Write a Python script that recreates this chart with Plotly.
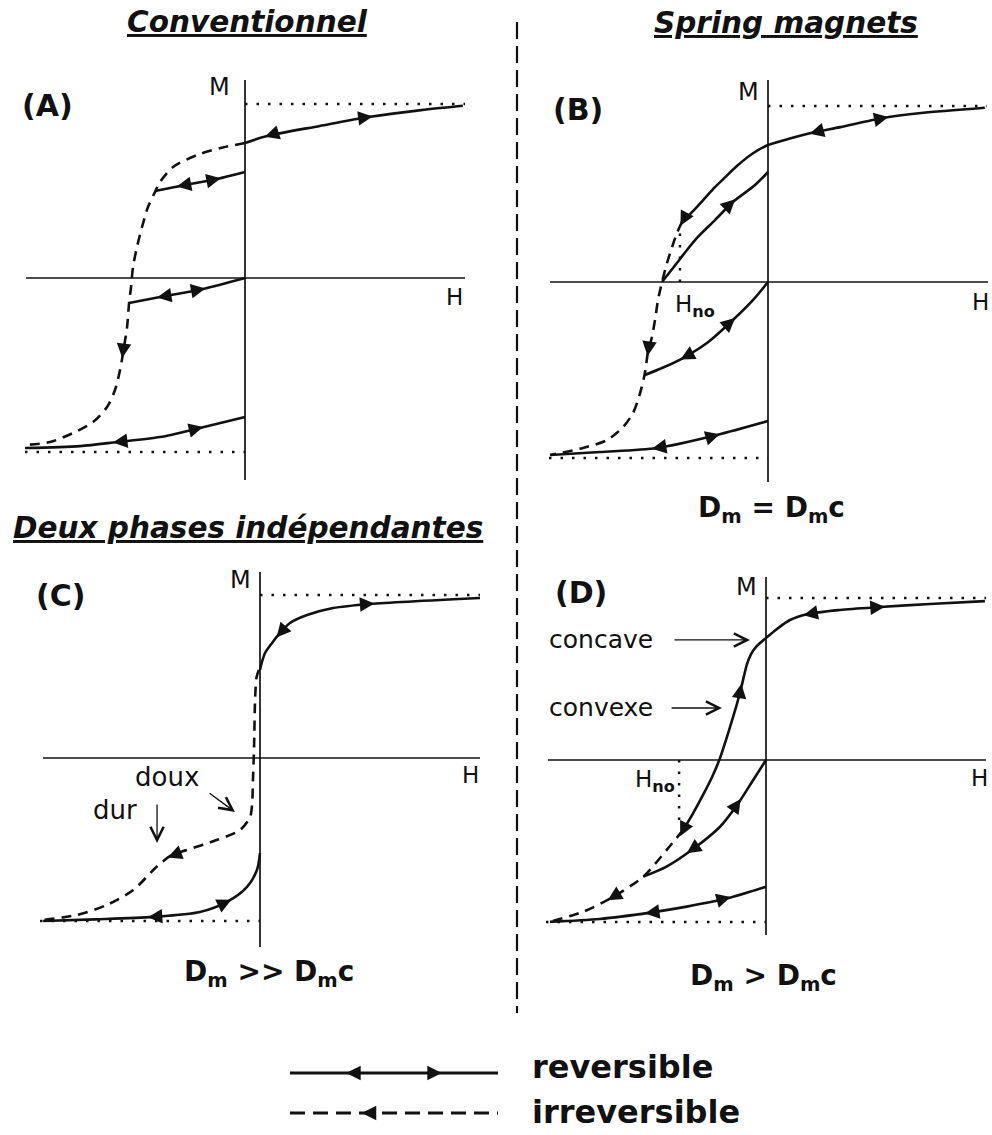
import plotly.graph_objects as go

W, HT = 992, 1135

# ---------------- data (H, M in reduced units, Ms = 1) ----------------
# Panel A - conventionnel
A_major_rev_H = [0.99, 0.80, 0.56, 0.34, 0.10, 0.0]
A_major_rev_M = [0.99, 0.965, 0.925, 0.874, 0.816, 0.776]
A_major_irr_H = [0.0, -0.10, -0.205, -0.327, -0.386, -0.409, -0.441, -0.468, -0.491, -0.509, -0.518,
                 -0.527, -0.536, -0.55, -0.568, -0.591, -0.627, -0.691, -0.782, -0.886, -1.0]
A_major_irr_M = [0.776, 0.75, 0.713, 0.638, 0.552, 0.494, 0.408, 0.293, 0.178, 0.063, -0.052,
                 -0.144, -0.282, -0.397, -0.529, -0.644, -0.741, -0.828, -0.891, -0.943, -0.960]
A_minor1_H = [-0.409, -0.295, -0.127, 0.0]
A_minor1_M = [0.50, 0.529, 0.569, 0.609]
A_minor2_H = [-0.527, -0.386, -0.191, 0.0]
A_minor2_M = [-0.144, -0.109, -0.063, 0.0]
A_bottom_H = [-1.0, -0.75, -0.582, -0.386, -0.205, 0.0]
A_bottom_M = [-0.977, -0.966, -0.943, -0.914, -0.862, -0.799]
# arrows: (H_tail, M_tail, H_tip, M_tip)
A_arrows = [(0.50, 0.915, 0.58, 0.928), (0.16, 0.84, 0.09, 0.812),
            (-0.25, 0.54, -0.31, 0.526), (-0.18, 0.556, -0.11, 0.573),
            (-0.33, -0.098, -0.40, -0.112), (-0.25, -0.077, -0.18, -0.06),
            (-0.52, -0.933, -0.60, -0.945), (-0.26, -0.878, -0.19, -0.857),
            (-0.548, -0.36, -0.558, -0.46)]

# Panel B - spring magnets, Dm = Dmc
B_upper_rev_H = [0.99, 0.70, 0.525, 0.33, 0.215, 0.10, 0.0, -0.07, -0.142, -0.20, -0.251, -0.30, -0.345, -0.393]
B_upper_rev_M = [0.99, 0.96, 0.932, 0.88, 0.852, 0.815, 0.778, 0.73, 0.659, 0.59, 0.528, 0.46, 0.40, 0.341]
B_irr_H = [-0.393, -0.416, -0.438, -0.461, -0.484, -0.502, -0.516, -0.53, -0.548, -0.562, -0.584,
           -0.616, -0.662, -0.735, -0.845, -0.995]
B_irr_M = [0.341, 0.278, 0.199, 0.108, 0.0, -0.102, -0.216, -0.312, -0.398, -0.517, -0.631,
           -0.744, -0.824, -0.898, -0.943, -0.983]
B_second_H = [0.0, -0.059, -0.160, -0.242, -0.320, -0.370, -0.416, -0.484]
B_second_M = [0.625, 0.551, 0.455, 0.352, 0.256, 0.182, 0.108, 0.0]
B_third_H = [0.0, -0.068, -0.160, -0.279, -0.388, -0.484, -0.565]
B_third_M = [0.0, -0.102, -0.216, -0.347, -0.432, -0.489, -0.53]
B_bottom_H = [-0.995, -0.767, -0.507, -0.233, 0.0]
B_bottom_M = [-0.983, -0.966, -0.943, -0.869, -0.790]
B_Hno = -0.402
B_Hno_M = [0.0, 0.295]
B_arrows = [(0.47, 0.918, 0.55, 0.938), (0.26, 0.866, 0.19, 0.843),
            (-0.19, 0.62, -0.15, 0.67), (-0.37, 0.39, -0.40, 0.32),
            (-0.20, 0.41, -0.15, 0.47), (-0.29, 0.295, -0.33, 0.24),
            (-0.20, -0.26, -0.15, -0.205), (-0.34, -0.40, -0.40, -0.44),
            (-0.45, -0.93, -0.53, -0.947), (-0.29, -0.89, -0.22, -0.865),
            (-0.54, -0.33, -0.55, -0.42)]

# Panel C - deux phases independantes, Dm >> Dmc
C_upper_rev_H = [1.0, 0.5, 0.332, 0.214, 0.136, 0.091, 0.055, 0.023, 0.009, 0.0]
C_upper_rev_M = [0.982, 0.945, 0.920, 0.877, 0.828, 0.767, 0.706, 0.644, 0.589, 0.540]
C_irr_H = [-0.005, -0.015, -0.022, -0.027, -0.032, -0.035, -0.045, -0.091, -0.197, -0.333, -0.401,
           -0.47, -0.576, -0.697, -0.833, -0.985]
C_irr_M = [0.54, 0.50, 0.374, 0.067, -0.135, -0.258, -0.362, -0.442, -0.503, -0.564, -0.595,
           -0.667, -0.810, -0.902, -0.963, -0.994]
C_bottom_H = [-0.986, -0.75, -0.486, -0.273, -0.15, -0.059, -0.014, 0.0]
C_bottom_M = [-1.0, -0.99, -0.975, -0.945, -0.883, -0.791, -0.687, -0.583]
C_arrows = [(0.44, 0.94, 0.52, 0.948), (0.12, 0.81, 0.075, 0.74),
            (-0.33, -0.564, -0.42, -0.61), (-0.43, -0.97, -0.51, -0.977),
            (-0.20, -0.915, -0.13, -0.87)]

# Panel D - Dm > Dmc
D_upper_rev_H = [0.995, 0.745, 0.518, 0.336, 0.191, 0.109, 0.05, 0.0, -0.041, -0.068, -0.086, -0.10,
                 -0.114, -0.132, -0.155, -0.182, -0.209, -0.245, -0.291, -0.336, -0.377]
D_upper_rev_M = [0.981, 0.963, 0.944, 0.926, 0.901, 0.864, 0.809, 0.753, 0.704, 0.654, 0.593, 0.519,
                 0.438, 0.346, 0.241, 0.123, 0.012, -0.105, -0.228, -0.340, -0.432]
D_irr_H = [-0.377, -0.452, -0.558, -0.694, -0.83, -0.982]
D_irr_M = [-0.432, -0.556, -0.72, -0.844, -0.936, -0.998]
D_second_H = [0.0, -0.058, -0.126, -0.209, -0.338, -0.452, -0.558]
D_second_M = [0.0, -0.123, -0.267, -0.412, -0.556, -0.658, -0.72]
D_bottom_H = [-0.982, -0.755, -0.527, -0.36, -0.177, 0.0]
D_bottom_M = [-0.998, -0.981, -0.942, -0.905, -0.854, -0.782]
D_Hno = -0.395
D_Hno_M = [0.0, -0.42]
D_arrows = [(0.46, 0.938, 0.54, 0.946), (0.25, 0.915, 0.17, 0.893),
            (-0.125, 0.36, -0.112, 0.47), (-0.35, -0.36, -0.39, -0.47),
            (-0.64, -0.80, -0.72, -0.865), (-0.16, -0.33, -0.115, -0.24),
            (-0.29, -0.51, -0.36, -0.575), (-0.46, -0.93, -0.55, -0.948),
            (-0.24, -0.875, -0.16, -0.845)]

# legend
legend_labels = ["reversible", "irreversible"]
legend_arrows_rev = [(0.4, 0.75, 0.27, 0.75), (0.6, 0.75, 0.73, 0.75)]
legend_arrows_irr = [(0.45, 0.25, 0.345, 0.25)]

# ---------------- styling ----------------
BLACK = "#111111"
FONT = "DejaVu Sans"
DASH_IRR = "10px,7px"
DOT_SAT = "2.5px,9px"
CURVE_W = 2.6

panels = {
    "A": dict(ox=245, oy=278, sx=220, sy=174, xr=[-1.1, 1.1], hx=[-0.995, 1.0], vy=[-1.161, 1.138], n=1),
    "B": dict(ox=768, oy=282, sx=219, sy=176, xr=[-1.1, 1.02], hx=[-0.995, 1.005], vy=[-1.136, 1.148], n=2),
    "C": dict(ox=260, oy=758, sx=220, sy=163, xr=[-1.1, 1.1], hx=[-0.986, 1.0], vy=[-1.16, 1.141], n=3),
    "D": dict(ox=766, oy=760, sx=220, sy=162, xr=[-1.1, 1.02], hx=[-0.991, 1.0], vy=[-1.08, 1.13], n=4),
}

fig = go.Figure()
annotations = []


def axnames(n):
    return ("x" if n == 1 else f"x{n}", "y" if n == 1 else f"y{n}")


def line(n, xs, ys, dash="solid", width=CURVE_W, shape="spline"):
    xa, ya = axnames(n)
    fig.add_trace(go.Scatter(x=xs, y=ys, mode="lines", xaxis=xa, yaxis=ya,
                             line=dict(color=BLACK, width=width, dash=dash, shape=shape,
                                       smoothing=0.8 if shape == "spline" else None),
                             hoverinfo="skip", showlegend=False))


def arrows(n, arr):
    # filled arrowheads placed on the curves (tip at the data point, oriented tail -> tip)
    xa, ya = axnames(n)
    for h0, m0, h1, m1 in arr:
        annotations.append(dict(x=h1, y=m1, ax=h1 - 0.4 * (h1 - h0), ay=m1 - 0.4 * (m1 - m0),
                                xref=xa, yref=ya, axref=xa, ayref=ya, text="", showarrow=True,
                                arrowhead=2, arrowsize=2.9, arrowwidth=1.0, arrowcolor=BLACK,
                                standoff=0, startstandoff=0))


layout_axes = {}
for key, p in panels.items():
    n = p["n"]
    yr = [-1.25, 1.25]
    xd = [(p["ox"] + p["xr"][0] * p["sx"]) / W, (p["ox"] + p["xr"][1] * p["sx"]) / W]
    yd = [1 - (p["oy"] - yr[0] * p["sy"]) / HT, 1 - (p["oy"] - yr[1] * p["sy"]) / HT]
    xk = "xaxis" if n == 1 else f"xaxis{n}"
    yk = "yaxis" if n == 1 else f"yaxis{n}"
    layout_axes[xk] = dict(domain=xd, range=p["xr"], visible=False, anchor=axnames(n)[1], fixedrange=True)
    layout_axes[yk] = dict(domain=yd, range=yr, visible=False, anchor=axnames(n)[0], fixedrange=True)
    # axes of the M(H) diagram
    line(n, p["hx"], [0, 0], width=1.7, shape="linear")
    line(n, [0, 0], p["vy"], width=1.7, shape="linear")
    # saturation lines
    line(n, [0, 1.0], [1.0, 1.0], dash=DOT_SAT, width=2.5, shape="linear")
    line(n, [-1.0, 0], [-1.0, -1.0], dash=DOT_SAT, width=2.5, shape="linear")

# legend axis
layout_axes["xaxis5"] = dict(domain=[290 / W, 498 / W], range=[0, 1], visible=False, anchor="y5", fixedrange=True)
layout_axes["yaxis5"] = dict(domain=[1 - 1133 / HT, 1 - 1053 / HT], range=[0, 1], visible=False, anchor="x5",
                             fixedrange=True)

# Panel A
line(1, A_major_rev_H, A_major_rev_M)
line(1, A_major_irr_H, A_major_irr_M, dash=DASH_IRR)
line(1, A_minor1_H, A_minor1_M)
line(1, A_minor2_H, A_minor2_M)
line(1, A_bottom_H, A_bottom_M)
arrows(1, A_arrows)

# Panel B
line(2, B_upper_rev_H, B_upper_rev_M)
line(2, B_irr_H, B_irr_M, dash=DASH_IRR)
line(2, B_second_H, B_second_M)
line(2, B_third_H, B_third_M)
line(2, B_bottom_H, B_bottom_M)
line(2, [B_Hno, B_Hno], B_Hno_M, dash=DOT_SAT, width=2.5, shape="linear")
arrows(2, B_arrows)

# Panel C
line(3, C_upper_rev_H, C_upper_rev_M)
line(3, C_irr_H, C_irr_M, dash=DASH_IRR)
line(3, C_bottom_H, C_bottom_M)
arrows(3, C_arrows)

# Panel D
line(4, D_upper_rev_H, D_upper_rev_M)
line(4, D_irr_H, D_irr_M, dash=DASH_IRR)
line(4, D_second_H, D_second_M)
line(4, D_bottom_H, D_bottom_M)
line(4, [D_Hno, D_Hno], D_Hno_M, dash=DOT_SAT, width=2.5, shape="linear")
arrows(4, D_arrows)

# legend samples
line(5, [0, 1], [0.75, 0.75], width=3.0, shape="linear")
line(5, [0, 1], [0.25, 0.25], dash="15px,8px", width=3.0, shape="linear")
arrows(5, legend_arrows_rev)
arrows(5, legend_arrows_irr)


def txt(x, y, text, size, bold=False, italic=False, under=False, xanchor="center"):
    annotations.append(dict(x=x / W, y=1 - y / HT, xref="paper", yref="paper", text=text, showarrow=False,
                            xanchor=xanchor, yanchor="middle",
                            font=dict(family=FONT, size=size, color=BLACK,
                                      weight="bold" if bold else "normal",
                                      style="italic" if italic else "normal",
                                      lineposition="under" if under else "none")))


# titles
txt(247, 22, "Conventionnel", 29.5, bold=True, italic=True, under=True)
txt(786, 23, "Spring magnets", 29.5, bold=True, italic=True, under=True)
txt(248, 528, "Deux phases indépendantes", 29.5, bold=True, italic=True, under=True)
# panel letters
for lx, ly, lt in [(47, 105, "(A)"), (578, 110, "(B)"), (60, 595, "(C)"), (581, 592, "(D)")]:
    txt(lx, ly, lt, 30, bold=True)
# axis labels
for lx, ly in [(219, 87), (748, 92), (240, 580), (746, 587)]:
    txt(lx, ly, "M", 24)
for lx, ly in [(454, 297), (980, 302), (470, 775), (979, 778)]:
    txt(lx, ly, "H", 23)
for lx, ly in [(695, 306), (655, 781)]:
    txt(lx, ly, "H<sub><b>no</b></sub>", 23)
# captions
txt(771, 509, "D<sub>m</sub> = D<sub>m</sub>c", 28, bold=True)
txt(269, 973, "D<sub>m</sub> >> D<sub>m</sub>c", 28, bold=True)
txt(763, 977, "D<sub>m</sub> > D<sub>m</sub>c", 28, bold=True)
# words
txt(167, 777, "doux", 26)
txt(115, 810, "dur", 26)
txt(601, 639, "concave", 25)
txt(601, 707, "convexe", 25)
# legend labels
txt(530, 1067, legend_labels[0], 32, bold=True, xanchor="left")
txt(530, 1112, legend_labels[1], 32, bold=True, xanchor="left")


def pointer(n, tail, head):
    xa, ya = axnames(n)
    annotations.append(dict(x=head[0], y=head[1], xref=xa, yref=ya, ax=tail[0], ay=tail[1],
                            axref=xa, ayref=ya, text="", showarrow=True, arrowhead=5,
                            arrowsize=2.0, arrowwidth=1.3, arrowcolor=BLACK))


pointer(3, (-0.236, -0.209), (-0.114, -0.331))
pointer(3, (-0.468, -0.276), (-0.468, -0.521))
pointer(4, (-0.423, 0.741), (-0.073, 0.741))
pointer(4, (-0.436, 0.321), (-0.2, 0.321))

shapes = [dict(type="line", xref="paper", yref="paper", x0=517 / W, x1=517 / W, y0=1 - 22 / HT, y1=1 - 1013 / HT,
               line=dict(color=BLACK, width=2.2, dash="17px,7px"))]

fig.update_layout(width=W, height=HT, margin=dict(l=0, r=0, t=0, b=0),
                  paper_bgcolor="white", plot_bgcolor="rgba(0,0,0,0)",
                  showlegend=False, annotations=annotations, shapes=shapes, **layout_axes)

fig.write_html("out.html", config={"displayModeBar": False},
               post_script="document.body.style.margin='0px';")
